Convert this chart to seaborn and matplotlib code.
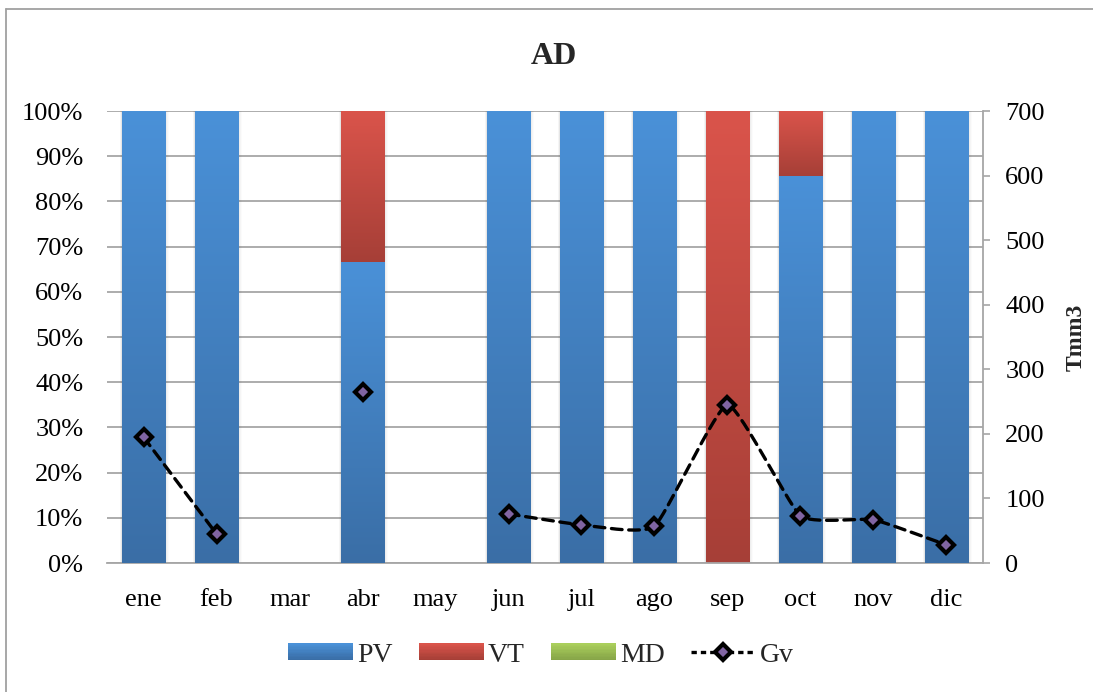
import numpy as np
import matplotlib
matplotlib.use("Agg")
import matplotlib.pyplot as plt
from matplotlib.colors import LinearSegmentedColormap
from matplotlib.patches import Rectangle
from matplotlib.lines import Line2D
from matplotlib.legend_handler import HandlerBase
import seaborn as sns

# ---- data ----
months = ['ene', 'feb', 'mar', 'abr', 'may', 'jun', 'jul', 'ago', 'sep', 'oct', 'nov', 'dic']
pv = [100, 100, 0, 66.7, 0, 100, 100, 100, 0, 85.7, 100, 100]
vt = [0, 0, 0, 33.3, 0, 0, 0, 0, 100, 14.3, 0, 0]
md = [0, 0, 0, 0, 0, 0, 0, 0, 0, 0, 0, 0]
gv = [195, 45, np.nan, 265, np.nan, 76, 59, 57, 245, 73, 67, 28]
pct_ticks = list(range(0, 101, 10))
gv_ticks = list(range(0, 701, 100))

# ---- style ----
sns.set_theme(style="white")
plt.rcParams['font.family'] = ['Liberation Serif', 'DejaVu Serif']
plt.rcParams['font.size'] = 19

BLUE = ('#3a6ea6', '#4a91d8')     # bottom, top
RED = ('#a63f37', '#da544b')
GREEN = ('#87a548', '#aacf5c')
GRID = '#a6a6a6'
TICK_FS = 19

fig = plt.figure(figsize=(10.93, 6.92), dpi=100)
ax = fig.add_axes([107 / 1093, 1 - 563 / 692, (983 - 107) / 1093, (563 - 111) / 692])

total = [p + v + m for p, v, m in zip(pv, vt, md)]
BAR_W = 0.59
sns.barplot(x=months, y=total, color=RED[1], width=BAR_W, ax=ax, saturation=1, zorder=2)
sns.barplot(x=months, y=pv, color=BLUE[1], width=BAR_W, ax=ax, saturation=1, zorder=3)

ax.set_xlim(-0.5, 11.5)
ax.set_ylim(0, 100)


def grad_cmap(pair):
    return LinearSegmentedColormap.from_list('g', list(pair))


grad = np.linspace(0, 1, 256).reshape(-1, 1)
patches = list(ax.patches)
n = len(months)
red_patches, blue_patches = patches[:n], patches[n:2 * n]

# soft shadow around each visible bar
px = 12 / 876.0
for i, p in enumerate(blue_patches):
    if total[i] <= 0:
        continue
    x0 = p.get_x()
    w = p.get_width()
    for k, a in zip([4, 3, 2, 1], [0.025, 0.035, 0.045, 0.055]):
        ax.add_patch(Rectangle((x0 - k * px * 0.6, 0), w + k * px * 1.6, total[i] + k * 0.1,
                               color='#555555', alpha=a, lw=0, zorder=1.5))

for i, p in enumerate(red_patches):
    if vt[i] > 0:
        x0, w = p.get_x(), p.get_width()
        im = ax.imshow(grad, cmap=grad_cmap(RED), aspect='auto', origin='lower',
                       extent=(x0, x0 + w, pv[i], total[i]), zorder=2)
        im.set_clip_path(p)
    p.set_facecolor('none')
    p.set_edgecolor('none')

for i, p in enumerate(blue_patches):
    if pv[i] > 0:
        x0, w = p.get_x(), p.get_width()
        im = ax.imshow(grad, cmap=grad_cmap(BLUE), aspect='auto', origin='lower',
                       extent=(x0, x0 + w, 0, pv[i]), zorder=3)
        im.set_clip_path(p)
    p.set_facecolor('none')
    p.set_edgecolor('none')

ax.set_xlim(-0.5, 11.5)
ax.set_ylim(0, 100)
ax.set_yticks(pct_ticks)
ax.set_yticklabels([f"{t}%" for t in pct_ticks])
ax.yaxis.grid(True, color=GRID, lw=1.3)
ax.xaxis.grid(False)
ax.set_axisbelow(True)
ax.tick_params(axis='y', length=0, pad=17, labelsize=TICK_FS, colors='black')
ax.tick_params(axis='x', length=0, pad=18.5, labelsize=TICK_FS, colors='black')
ax.set_xlabel('')
ax.set_ylabel('')
for s in ['left', 'top', 'right']:
    ax.spines[s].set_visible(False)
ax.spines['bottom'].set_color(GRID)
ax.spines['bottom'].set_linewidth(1.3)

# ---- Gv line on the secondary axis ----
ax2 = ax.twinx()
ax2.set_ylim(0, 700)
ax2.set_yticks(gv_ticks)
ax2.tick_params(axis='y', direction='out', length=5, width=1.2, pad=11,
                labelsize=TICK_FS, colors=GRID, labelcolor='black')
for s in ['left', 'top', 'bottom']:
    ax2.spines[s].set_visible(False)
ax2.spines['right'].set_color(GRID)
ax2.spines['right'].set_linewidth(1.3)
ax2.grid(False)
ax2.set_ylabel('Tmm3', fontweight='bold', fontsize=17, labelpad=15)


def smooth_curve(xs, ys, tension=0.45, steps=30):
    """Cubic Hermite curve through the points with damped Catmull-Rom tangents."""
    xs = np.asarray(xs, float)
    ys = np.asarray(ys, float)
    if len(xs) < 2:
        return xs, ys
    P = np.column_stack([xs, ys])
    ext = np.vstack([2 * P[0] - P[1], P, 2 * P[-1] - P[-2]])
    tang = tension * (ext[2:] - ext[:-2]) / 2.0
    out = []
    t = np.linspace(0, 1, steps)[:, None]
    h00 = 2 * t ** 3 - 3 * t ** 2 + 1
    h10 = t ** 3 - 2 * t ** 2 + t
    h01 = -2 * t ** 3 + 3 * t ** 2
    h11 = t ** 3 - t ** 2
    for j in range(len(P) - 1):
        seg = h00 * P[j] + h10 * tang[j] + h01 * P[j + 1] + h11 * tang[j + 1]
        out.append(seg if j == 0 else seg[1:])
    out = np.vstack(out)
    return out[:, 0], out[:, 1]


# split into runs of consecutive valid values
gv_arr = np.array(gv, float)
idx = np.arange(n)
runs, cur = [], []
for i in idx:
    if np.isnan(gv_arr[i]):
        if cur:
            runs.append(cur)
        cur = []
    else:
        cur.append(i)
if cur:
    runs.append(cur)

line_kw = dict(color='black', lw=2.4, dashes=(3.2, 2.0), dash_capstyle='round', zorder=5)
for r in runs:
    if len(r) > 1:
        sx, sy = smooth_curve(idx[r], gv_arr[r])
        ax2.plot(sx, sy, **line_kw)

mk_kw = dict(marker='D', markersize=8, markerfacecolor='#8064a2', markeredgecolor='black',
             markeredgewidth=3.0, linestyle='none', zorder=6)
ax2.plot(idx, gv_arr, **mk_kw)
ax2.set_xlim(-0.5, 11.5)

# ---- title ----
fig.text(554 / 1093, 1 - 57 / 692, 'AD', ha='center', va='center', fontsize=23, fontweight='bold')


# ---- legend ----
class GradHandler(HandlerBase):
    def __init__(self, pair):
        super().__init__()
        self.pair = pair

    def create_artists(self, legend, orig_handle, xdescent, ydescent, width, height, fontsize, trans):
        cm = grad_cmap(self.pair)
        k = 12
        arts = []
        for j in range(k):
            r = Rectangle((-xdescent, -ydescent + height * j / k), width, height / k + 0.3,
                          facecolor=cm(j / (k - 1)), edgecolor='none', transform=trans)
            arts.append(r)
        return arts


h_pv = Rectangle((0, 0), 1, 1)
h_vt = Rectangle((0, 0), 1, 1)
h_md = Rectangle((0, 0), 1, 1)
h_gv = Line2D([], [], color='black', lw=2.4, dashes=(1.6, 1.2), marker='D', markersize=8,
              markerfacecolor='#8064a2', markeredgecolor='black', markeredgewidth=3.0)
fig.legend([h_pv, h_vt, h_md, h_gv], ['PV', 'VT', 'MD', 'Gv'],
           handler_map={h_pv: GradHandler(BLUE), h_vt: GradHandler(RED), h_md: GradHandler(GREEN)},
           loc='center', bbox_to_anchor=(541 / 1093, 1 - 655 / 692), ncol=4, frameon=False,
           fontsize=20, handlelength=2.35, handleheight=0.55, handletextpad=0.15, columnspacing=0.93)

# ---- chart border ----
fig.add_artist(Line2D([6 / 1093, 6 / 1093], [0, 1 - 9 / 692], transform=fig.transFigure,
                      color='#a0a0a0', lw=1.3))
fig.add_artist(Line2D([6 / 1093, 1], [1 - 9 / 692, 1 - 9 / 692], transform=fig.transFigure,
                      color='#a0a0a0', lw=1.3))

fig.savefig('out.png', dpi=100, facecolor='white')
